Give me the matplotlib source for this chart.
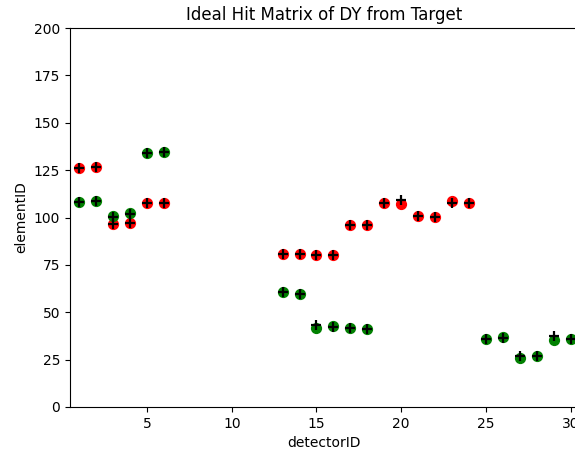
import numpy as np
import matplotlib.pyplot as plt

# reconstructed hits, positive / negative tracks
red_det = [1, 2, 3, 4, 5, 6, 13, 14, 15, 16, 17, 18, 19, 20, 21, 22, 23, 24]
red_elem = [126.3, 126.8, 96.6, 97.0, 107.5, 107.5, 80.7, 80.7, 80.2, 80.2,
            96.0, 96.0, 107.5, 107.1, 100.8, 100.4, 108.9, 107.5]

green_det = [1, 2, 3, 4, 5, 6, 13, 14, 15, 16, 17, 18, 25, 26, 27, 28, 29, 30]
green_elem = [108.0, 108.9, 100.8, 102.3, 133.9, 134.7, 60.5, 59.6, 41.9, 42.9,
              41.5, 41.2, 35.7, 37.1, 26.0, 27.1, 35.4, 35.9]

# ideal hits from target
ideal_det = red_det + green_det
ideal_elem = [126.3, 126.8, 96.6, 97.0, 107.5, 107.5, 80.7, 80.7, 80.2, 80.2,
              96.0, 96.0, 107.5, 109.2, 100.8, 100.4, 107.8, 107.5,
              108.0, 108.9, 100.3, 102.0, 133.9, 134.7, 60.5, 59.6, 43.3, 42.0,
              41.5, 41.2, 35.7, 36.2, 27.1, 27.1, 37.5, 35.9]

fig = plt.figure(figsize=(5.75, 4.51), dpi=100)
ax = fig.add_axes([70 / 575, 44 / 451, 509 / 575, 379 / 451])

ax.scatter(red_det, red_elem, color='red', s=50)
ax.scatter(green_det, green_elem, color='green', s=50)
ax.scatter(ideal_det, ideal_elem, color='black', marker='+', s=60, linewidths=1.6)

ax.set_xlim(0.45, 30.5)
ax.set_ylim(0, 200)
ax.set_xticks(np.arange(5, 31, 5))
ax.set_yticks(np.arange(0, 201, 25))
ax.set_xlabel("detectorID")
ax.set_ylabel("elementID")
ax.set_title("Ideal Hit Matrix of DY from Target")

fig.savefig("out.png", dpi=100)
